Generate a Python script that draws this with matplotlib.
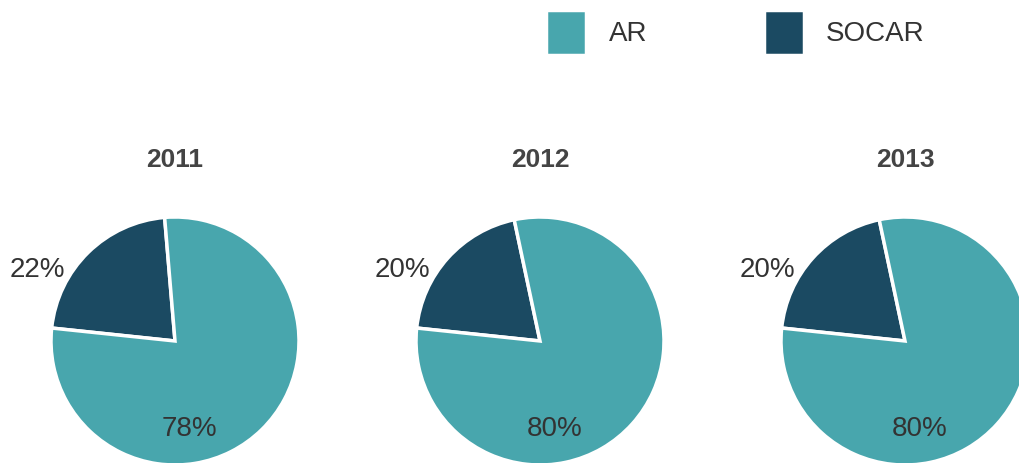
import matplotlib.pyplot as plt

# data
years = ["2011", "2012", "2013"]
ar_share = [78, 80, 80]
socar_share = [22, 20, 20]
series = ["AR", "SOCAR"]
colors = {"AR": "#48a6ad", "SOCAR": "#1b4a62"}

plt.rcParams['font.family'] = ['Liberation Sans', 'DejaVu Sans']

W, H = 1020, 463
fig = plt.figure(figsize=(W / 100, H / 100), dpi=100)
ax = fig.add_axes([0, 0, 1, 1])

# layout in pixel units (y measured from bottom)
centers_x = [175, 540, 905]
center_y = H - 341
radius = 124
text_col = "#333333"

wedges = None
for cx, year, ar, so in zip(centers_x, years, ar_share, socar_share):
    wedges, _ = ax.pie([so, ar], colors=[colors["SOCAR"], colors["AR"]],
                       startangle=174, counterclock=False,
                       center=(cx, center_y), radius=radius, frame=True,
                       wedgeprops=dict(edgecolor="white", linewidth=2.5))
    ax.text(cx, H - 160, year, ha="center", va="center",
            fontsize=19, fontweight="bold", color="#444444")
    # value labels
    ax.text(cx - 1.11 * radius, center_y + 0.57 * radius, f"{so}%",
            ha="center", va="center", fontsize=20, color=text_col)
    ax.text(cx + 0.12 * radius, center_y - 0.71 * radius, f"{ar}%",
            ha="center", va="center", fontsize=20, color=text_col)

ax.set_xlim(0, W)
ax.set_ylim(0, H)
ax.set_aspect("equal")
ax.axis("off")

leg = fig.legend([wedges[1], wedges[0]], series, loc="upper left",
                 bbox_to_anchor=(546 / W, 1 - 10 / H), ncol=2, frameon=False,
                 fontsize=20, handlelength=1.45, handleheight=2.1,
                 handletextpad=0.8, columnspacing=4.2, borderpad=0,
                 borderaxespad=0)
for t in leg.get_texts():
    t.set_color(text_col)

fig.savefig("out.png", dpi=100)
